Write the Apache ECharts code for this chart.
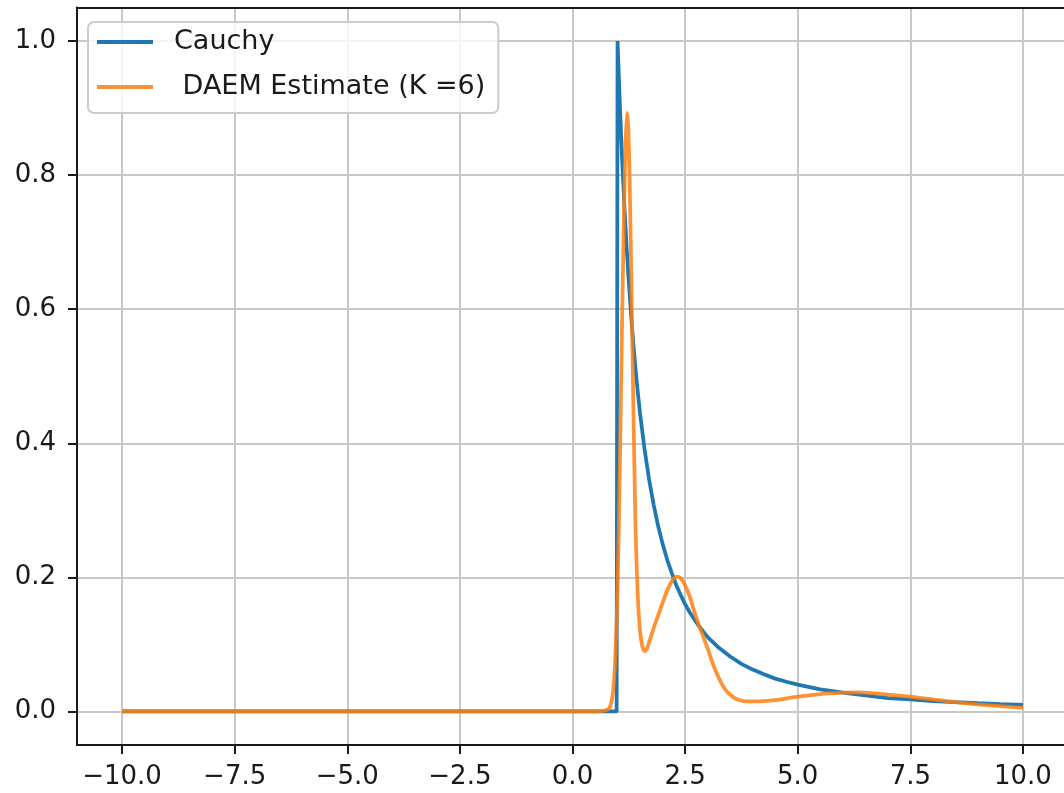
<!DOCTYPE html>
<html>
<head>
<meta charset="utf-8">
<script src="https://cdn.jsdelivr.net/npm/echarts@6/dist/echarts.min.js"></script>
<style>html,body{margin:0;padding:0;background:#fff;}#c{width:1064px;height:793px;}</style>
</head>
<body>
<div id="c"></div>
<script>
// ---- data ----
const xTicks = [-10, -7.5, -5, -2.5, 0, 2.5, 5, 7.5, 10];
const yTicks = [0, 0.2, 0.4, 0.6, 0.8, 1.0];

const cauchyX = [-10, 0.98, 1.0, 1.05, 1.1, 1.15, 1.2, 1.25, 1.3, 1.35, 1.4, 1.45, 1.5, 1.6, 1.7, 1.8, 1.9, 2.0, 2.1, 2.2, 2.3, 2.4, 2.5, 2.6, 2.8, 3.0, 3.25, 3.5, 3.75, 4.0, 4.25, 4.5, 4.75, 5.0, 5.5, 6.0, 6.5, 7.0, 7.5, 8.0, 8.5, 9.0, 9.5, 10.0];
const cauchyY = [0, 0, 1.0, 0.907, 0.826, 0.756, 0.694, 0.640, 0.592, 0.549, 0.510, 0.476, 0.444, 0.391, 0.346, 0.309, 0.277, 0.250, 0.227, 0.207, 0.189, 0.174, 0.160, 0.148, 0.128, 0.111, 0.095, 0.082, 0.071, 0.0625, 0.0554, 0.049, 0.0443, 0.040, 0.033, 0.028, 0.024, 0.020, 0.018, 0.0156, 0.0138, 0.0123, 0.011, 0.010];

const daemX = [-10, 0.6, 0.7, 0.8, 0.85, 0.9, 0.95, 1.0, 1.05, 1.1, 1.15, 1.18, 1.21, 1.24, 1.27, 1.3, 1.35, 1.4, 1.45, 1.5, 1.55, 1.6, 1.65, 1.7, 1.8, 1.9, 2.0, 2.1, 2.2, 2.3, 2.4, 2.5, 2.6, 2.7, 2.8, 2.9, 3.0, 3.1, 3.2, 3.3, 3.4, 3.5, 3.6, 3.7, 3.8, 3.9, 4.0, 4.25, 4.5, 5.0, 5.5, 6.0, 6.25, 6.5, 7.0, 7.5, 8.0, 8.5, 9.0, 9.5, 10.0];
const daemY = [0, 0, 0.001, 0.004, 0.01, 0.03, 0.08, 0.18, 0.36, 0.58, 0.77, 0.85, 0.893, 0.87, 0.79, 0.67, 0.46, 0.27, 0.17, 0.12, 0.097, 0.09, 0.093, 0.103, 0.124, 0.143, 0.162, 0.180, 0.194, 0.201, 0.199, 0.188, 0.172, 0.150, 0.130, 0.112, 0.094, 0.074, 0.057, 0.043, 0.032, 0.025, 0.020, 0.017, 0.0155, 0.015, 0.015, 0.0155, 0.017, 0.022, 0.026, 0.028, 0.0285, 0.028, 0.025, 0.022, 0.018, 0.014, 0.0105, 0.008, 0.0055];

const pairs = (xs, ys) => xs.map((x, i) => [x, ys[i]]);
const fmt = v => v.toFixed(1).replace('-', '\u2212');

const chart = echarts.init(document.getElementById('c'), null, {renderer: 'canvas'});
const font = 'DejaVu Sans';
const ink = '#1a1a1a';
chart.setOption({
  animation: false,
  backgroundColor: '#ffffff',
  grid: {left: 77, top: 7.5, width: 991, height: 737.5, outerBoundsMode: 'none', containLabel: false, show: false},
  xAxis: [{
    type: 'value', min: -11, max: 11, position: 'bottom',
    axisLine: {show: true, onZero: false, lineStyle: {color: ink, width: 2}},
    axisTick: {show: true, length: 9, customValues: xTicks, lineStyle: {color: ink, width: 2}},
    axisLabel: {customValues: xTicks, formatter: fmt, margin: 19, color: ink, fontFamily: font, fontSize: 26},
    splitLine: {show: true, lineStyle: {color: '#c8c8c8', width: 2}}
  }, {
    type: 'value', min: -11, max: 11, position: 'top',
    axisLine: {show: true, onZero: false, lineStyle: {color: ink, width: 2}},
    axisTick: {show: false}, axisLabel: {show: false}, splitLine: {show: false}
  }],
  yAxis: {
    type: 'value', min: -0.05, max: 1.05, position: 'left',
    axisLine: {show: true, onZero: false, lineStyle: {color: ink, width: 2}},
    axisTick: {show: true, length: 9, customValues: yTicks, lineStyle: {color: ink, width: 2}},
    axisLabel: {customValues: yTicks, formatter: fmt, margin: 21, color: ink, fontFamily: font, fontSize: 26},
    splitLine: {show: true, lineStyle: {color: '#c8c8c8', width: 2}}
  },
  legend: {
    orient: 'vertical', left: 88, top: 22,
    padding: [5, 13, 11, 9],
    icon: 'rect',
    itemWidth: 56, itemHeight: 4, itemGap: 15,
    backgroundColor: 'rgba(255,255,255,0.8)', borderColor: '#cccccc', borderWidth: 2, borderRadius: 6,
    textStyle: {fontFamily: font, fontSize: 27, color: ink, lineHeight: 30, padding: [0, 0, 0, 16]},
    data: ['Cauchy', ' DAEM Estimate (K =6)']
  },
  series: [
    {name: 'Cauchy', type: 'line', xAxisIndex: 0, data: pairs(cauchyX, cauchyY), symbol: 'none', smooth: false,
     lineStyle: {color: '#1f77b4', width: 3.75}, itemStyle: {color: '#1f77b4'}, z: 2},
    {name: ' DAEM Estimate (K =6)', type: 'line', xAxisIndex: 0, data: pairs(daemX, daemY), symbol: 'none', smooth: 0.2,
     lineStyle: {color: '#ff7f0e', width: 3.75, opacity: 0.85}, itemStyle: {color: '#f5943a'}, z: 3}
  ]
});
</script>
</body>
</html>
